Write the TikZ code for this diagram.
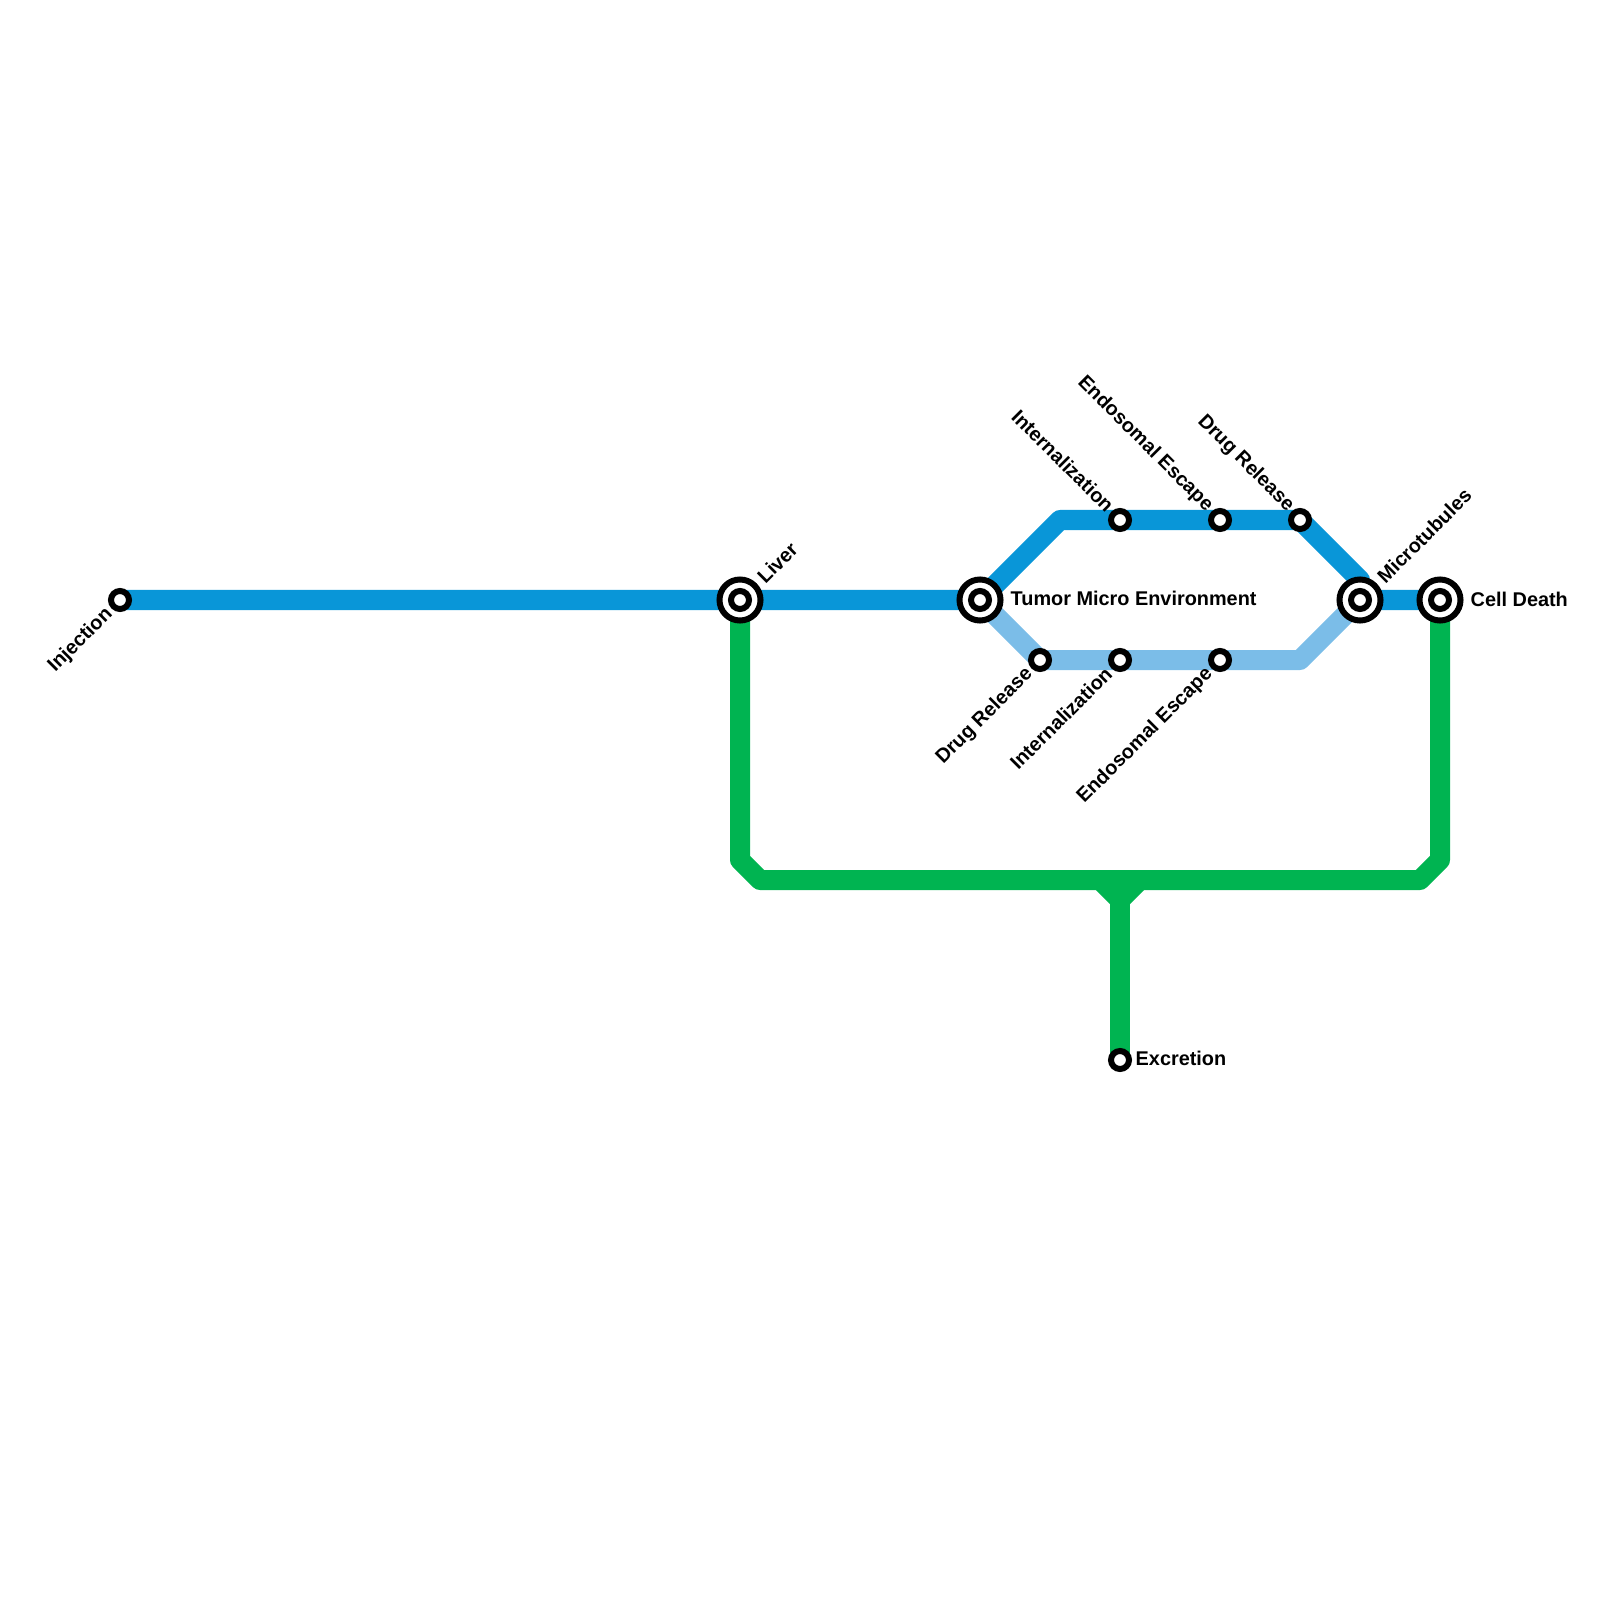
\documentclass[tikz,border=0pt]{standalone}
\definecolor{metroblue}{RGB}{9, 150, 216}
\definecolor{metrolight}{RGB}{123, 189, 232}
\definecolor{metrogreen}{RGB}{0, 180, 81}
\usepackage{fontspec}
\setmainfont{Liberation Sans}
\usepackage{tikz}
\tikzset{
  route/.style={line width=0.2cm, line join=round},
  stopnode/.style={circle, draw=black, fill=white, line width=0.06cm, minimum size=0.18cm, inner sep=0pt},
  hubnode/.style={circle, draw=black, fill=white, line width=0.06cm, minimum size=0.41cm, inner sep=0pt},
  stoplabel/.style={font=\bfseries\fontsize{5.65pt}{6.5pt}\selectfont, inner sep=0pt, text=black}
}

\begin{document}
\begin{tikzpicture}[x=0.01cm, y=-0.01cm]
  \useasboundingbox (0,0) rectangle (1600,1600);

  % stations
  \coordinate (injectionP) at (120,600);
  \coordinate (liverP) at (740,600);
  \coordinate (tumorP) at (980,600);
  \coordinate (microP) at (1360,600);
  \coordinate (deathP) at (1440,600);
  \coordinate (excretionP) at (1120,1060);

  % bends
  \coordinate (topL) at (1060,520);
  \coordinate (topR) at (1300,520);
  \coordinate (topS) at (1360,580);
  \coordinate (lowL) at (1040,660);
  \coordinate (lowR) at (1300,660);
  \coordinate (greenA) at (740,860);
  \coordinate (greenB) at (760,880);
  \coordinate (greenC) at (1420,880);
  \coordinate (greenD) at (1440,860);
  \coordinate (forkL) at (1100,880);
  \coordinate (forkR) at (1140,880);
  \coordinate (forkM) at (1120,900);

  % routes
  \draw[route, metrogreen] (liverP) -- (greenA) -- (greenB) -- (greenC) -- (greenD) -- (deathP);
  \draw[route, metrogreen] (forkL) -- (forkM) -- (forkR) -- cycle;
  \draw[route, metrogreen] (forkM) -- (excretionP);
  \draw[route, metrolight] (tumorP) -- (lowL) -- (lowR) -- (microP);
  \draw[route, metroblue] (injectionP) -- (liverP) -- (tumorP) -- (topL) -- (topR) -- (topS) -- (microP) -- (deathP);

  % stops
  \node[stopnode] (injection) at (injectionP) {};
  \node[hubnode] (liver) at (liverP) {};
  \node[stopnode] (liverC) at (liverP) {};
  \node[hubnode] (tumor) at (tumorP) {};
  \node[stopnode] (tumorC) at (tumorP) {};
  \node[hubnode] (micro) at (microP) {};
  \node[stopnode] (microC) at (microP) {};
  \node[hubnode] (death) at (deathP) {};
  \node[stopnode] (deathC) at (deathP) {};
  \node[stopnode] (internalA) at (1120,520) {};
  \node[stopnode] (escapeA) at (1220,520) {};
  \node[stopnode] (releaseA) at (1300,520) {};
  \node[stopnode] (releaseB) at (1040,660) {};
  \node[stopnode] (internalB) at (1120,660) {};
  \node[stopnode] (escapeB) at (1220,660) {};
  \node[stopnode] (excretion) at (excretionP) {};

  % labels
  \node[stoplabel, rotate=45, anchor=east] (injectionL) at (110,611) {Injection};
  \node[stoplabel, rotate=45, anchor=west] (liverL) at (760,580) {Liver};
  \node[stoplabel, anchor=west] (tumorL) at (1010,598) {Tumor Micro Environment};
  \node[stoplabel, rotate=45, anchor=west] (microL) at (1380,580) {Microtubules};
  \node[stoplabel, anchor=west] (deathL) at (1470,599) {Cell Death};
  \node[stoplabel, anchor=west] (excretionL) at (1135,1058) {Excretion};
  \node[stoplabel, rotate=-45, anchor=east] (internalAL) at (1111,509) {Internalization};
  \node[stoplabel, rotate=-45, anchor=east] (escapeAL) at (1210,509) {Endosomal Escape};
  \node[stoplabel, rotate=-45, anchor=east] (releaseAL) at (1291,509) {Drug Release};
  \node[stoplabel, rotate=45, anchor=east] (releaseBL) at (1030,671) {Drug Release};
  \node[stoplabel, rotate=45, anchor=east] (internalBL) at (1109,670) {Internalization};
  \node[stoplabel, rotate=45, anchor=east] (escapeBL) at (1210,671) {Endosomal Escape};
\end{tikzpicture}
\end{document}
